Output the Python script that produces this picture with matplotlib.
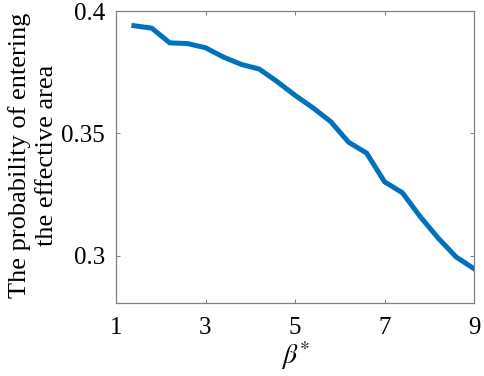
import matplotlib
matplotlib.use("Agg")
import matplotlib.pyplot as plt

# values
beta = [1.4, 1.8, 2.2, 2.6, 3.0, 3.4, 3.8, 4.2, 4.6, 5.0, 5.4, 5.8, 6.2, 6.6, 7.0, 7.4, 7.8, 8.2, 8.6, 9.0]
prob = [0.394, 0.393, 0.387, 0.3867, 0.385, 0.3812, 0.3782, 0.3763, 0.3712, 0.3656, 0.3605, 0.3548,
        0.3464, 0.342, 0.3303, 0.3258, 0.316, 0.3073, 0.2996, 0.2948]
xticks = [1, 3, 5, 7, 9]
yticks = [0.3, 0.35, 0.4]
ytick_labels = ["0.3", "0.35", "0.4"]

plt.rcParams["font.family"] = "serif"
plt.rcParams["font.serif"] = ["Liberation Serif", "DejaVu Serif"]
plt.rcParams["mathtext.fontset"] = "stix"

fig = plt.figure(figsize=(4.84, 3.76), dpi=100)
ax = fig.add_axes([116 / 484, 1 - 303 / 376, (474 - 116) / 484, (303 - 11) / 376])

ax.plot(beta, prob, color="#0072BD", linewidth=3.6, solid_joinstyle="miter")

ax.set_xlim(1, 9)
ax.set_ylim(0.2808, 0.4)
ax.set_xticks(xticks)
ax.set_xticklabels([str(t) for t in xticks])
ax.set_yticks(yticks)
ax.set_yticklabels(ytick_labels)
ax.tick_params(direction="in", length=3, width=0.7, color="#808080",
               labelsize=18, top=True, right=True, pad=8)
ax.tick_params(axis="x", pad=10)

for s in ax.spines.values():
    s.set_color("#808080")
    s.set_linewidth(0.9)

ax.set_xlabel(r"$\beta^{*}$", fontsize=20, labelpad=0)
ax.set_ylabel("The probability of entering\nthe effective area", fontsize=19,
              linespacing=1.25)
ax.yaxis.set_label_coords(-0.163, 0.505)

fig.savefig("out.png", dpi=100)
